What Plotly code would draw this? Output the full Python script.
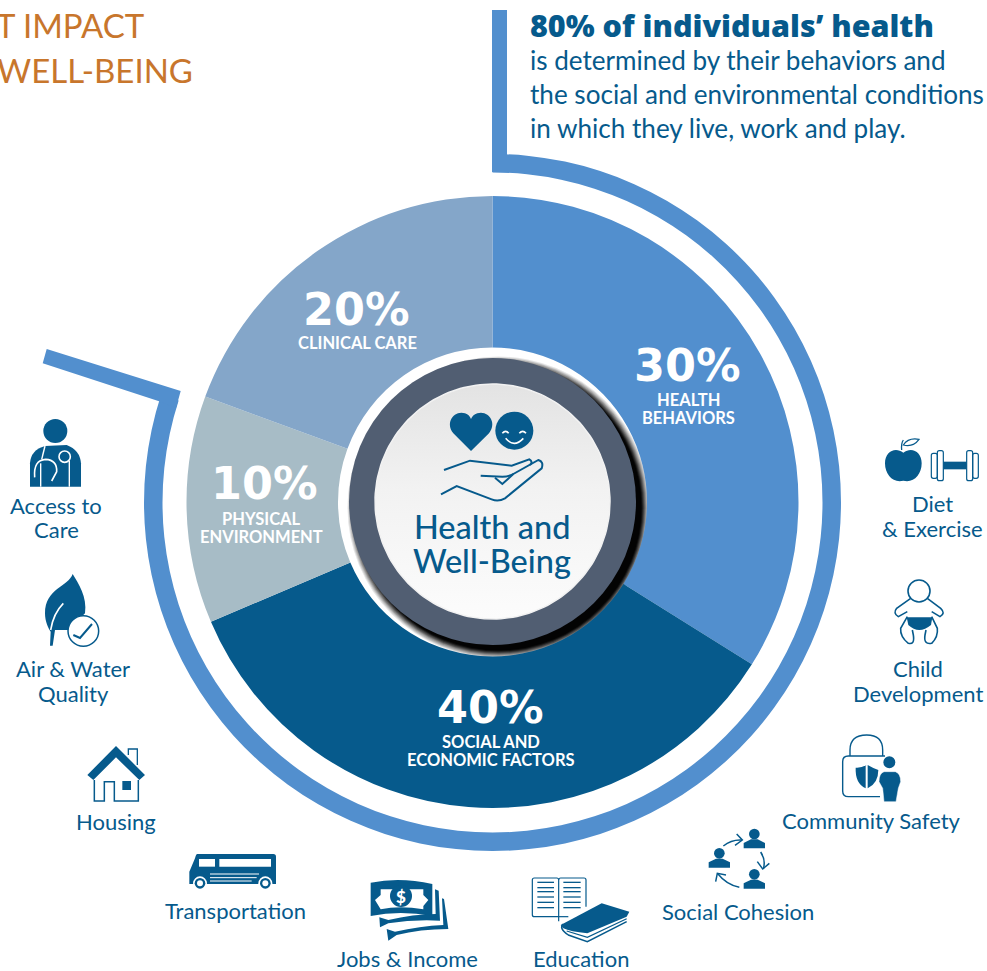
import re
import numpy as np
import plotly.graph_objects as go

# ---- data ----
categories = ["Health Behaviors", "Social and Economic Factors", "Physical Environment", "Clinical Care"]
stated_pct = ["30%", "40%", "10%", "20%"]
drawn_share = [33.9, 34.7, 12.0, 19.4]      # slice sizes as they are drawn in the picture
slice_colors = ["#528fce", "#065a8c", "#a7bcc6", "#84a6c9"]
bracket_values = [80, 20]
W, H = 987, 971
FONT = "Lato"
BLUE = "#065a8c"
ORANGE = "#c8762c"
ARC = "#528fce"

shapes, annos = [], []

def T(text, x, y, size, color=BLUE, weight=400, anchor="center", family=FONT):
    annos.append(dict(text=text, x=x, y=y, xref="x", yref="y", showarrow=False, xanchor=anchor,
                      yanchor="middle", font=dict(family=family, size=size, color=color, weight=weight)))

def zp(path, o):
    """path written in 3x zoom coordinates relative to origin o -> page pixels"""
    i = [0]
    def rep(m):
        v = float(m.group(0)) / 3 + o[i[0] % 2]
        i[0] += 1
        return f"{v:.2f}"
    return re.sub(r"-?\d+\.?\d*", rep, path)

def P(path, o=(0, 0), fill=BLUE, lc=None, lw=0, layer="above", op=1):
    p = zp(path, o) if o is not None else path
    shapes.append(dict(type="path", path=p, xref="x", yref="y", fillcolor=fill if fill else "rgba(0,0,0,0)",
                       line=dict(color=lc if lc else "rgba(0,0,0,0)", width=lw), layer=layer, opacity=op))

def S(path, o, lc=BLUE, lw=1.5, layer="above"):
    P(path, o, fill=None, lc=lc, lw=lw, layer=layer)

def C(cx, cy, r, o=(0, 0), fill=BLUE, lc=None, lw=0, layer="above", op=1, scale=3):
    cx, cy, r = cx / scale + o[0], cy / scale + o[1], r / scale
    shapes.append(dict(type="circle", x0=cx - r, x1=cx + r, y0=cy - r, y1=cy + r, xref="x", yref="y",
                       fillcolor=fill if fill else "rgba(0,0,0,0)",
                       line=dict(color=lc if lc else "rgba(0,0,0,0)", width=lw), layer=layer, opacity=op))

# ---- pies: main donut and 80% bracket ring ----
cx, cy, R = 492.5, 502.0, 306.0
R2, cy2 = 348.5, 502.5
fig = go.Figure()
t = np.linspace(0, 2 * np.pi, 181)
fig.add_trace(go.Scatter(x=492.5 + 117.5 * np.cos(t), y=501.5 + 117.5 * np.sin(t), mode="lines",
                         line=dict(color="#f2f2f2", width=1.5), fill="toself", hoverinfo="skip", showlegend=False,
                         fillgradient=dict(type="vertical",
                                           colorscale=[[0, "#fcfcfc"], [0.55, "#f2f2f2"], [1, "#e3e3e3"]])))
fig.add_trace(go.Pie(values=drawn_share, labels=categories, sort=False, direction="clockwise", rotation=0,
                     hole=154.5 / R, textinfo="none", showlegend=False,
                     marker=dict(colors=slice_colors, line=dict(width=0)),
                     domain=dict(x=[(cx - R) / W, (cx + R) / W], y=[1 - (cy + R) / H, 1 - (cy - R) / H])))
fig.add_trace(go.Pie(values=bracket_values, labels=["80%", "other"], sort=False, direction="clockwise", rotation=0,
                     hole=330 / R2, textinfo="none", showlegend=False,
                     marker=dict(colors=[ARC, "rgba(0,0,0,0)"], line=dict(width=0)),
                     domain=dict(x=[(cx - R2) / W, (cx + R2) / W], y=[1 - (cy2 + R2) / H, 1 - (cy2 - R2) / H])))

# ---- bracket ends ----
P("M492,10 L507,10 L507,172 L492,172 Z", None, fill=ARC)
P("M46.7,349 L180.7,391 L176,408 L158.3,401 L42.7,363.3 Z", None, fill=ARC)

# ---- hub ----
for r, op in [(151, .10), (150, .12), (149, .14), (148, .18), (147, .24), (146, .3), (145, .4), (144, .6), (143, .8)]:
    C(498.5, 507.5, r, fill="#000000", layer="below", op=op, scale=1)
C(492.5, 501.5, 143.5, fill="#515e72", layer="below", scale=1)

o = (340, 350)
P("M393,303 L340,250 C315,220 340,180 375,190 C385,193 390,200 393,207 C396,200 402,193 412,190 C447,180 472,220 447,250 Z", o)
C(523, 242, 57, o)
for p in ["M487,250 Q497,238 506,250", "M538,250 Q548,238 558,250", "M497,265 Q522,295 550,265"]:
    S(p, o, "#ffffff", 1.6)
S("M312,360 L390,332 L515,347 L568,328 Q580,335 570,345", o, lw=2)
S("M303,433 L350,408 L455,448 Q475,456 495,445 L605,355 Q612,335 595,330 L520,372 Q505,380 487,380 L422,377", o, lw=2)
S("M465,383 L487,402 L520,372", o, lw=2)

# ---- access to care ----
o = (0, 400)
C(166, 93, 36, o)
P("M90,260 L90,190 Q92,150 135,138 L200,135 Q240,150 243,190 L243,260 Z", o)
S("M135,138 L125,178", o, "#ffffff", 1.4)
S("M104,232 Q100,180 137,178 Q172,180 170,215 L155,243", o, "#ffffff", 1.6)
S("M122,190 L122,260", o, "#ffffff", 1.4)
S("M208,182 L208,260", o, "#ffffff", 1.4)
C(194, 170, 17, o, fill=BLUE, lc="#ffffff", lw=1.6)

# ---- air & water ----
P("M218,522 C205,560 135,565 135,640 C135,665 145,685 152,695 L150,737 L158,737 L165,690 L205,690 L255,640 C262,590 235,550 218,522 Z", o)
S("M152,690 Q160,640 190,610", o, "#ffffff", 1.6)
C(250, 693, 46, o, fill="#ffffff", lc=BLUE, lw=1.5)
S("M220,705 L240,714 L276,672", o, lw=2)

# ---- housing ----
o = (60, 730)
P("M168,48 L255,135 L238,150 L168,82 L100,150 L82,135 Z", o)
S("M205,75 L205,57 L232,57 L232,105", o, lw=1.3)
S("M103,150 L103,213 L133,213 L133,155 L163,155 L163,213 L235,213 L235,150", o, lw=1.5)
P("M187,153 L213,153 L213,180 L187,180 Z", o)

# ---- transportation ----
P("M412,372 L640,372 Q648,372 648,380 L648,462 L388,462 L388,425 L405,385 Q408,372 412,372 Z", o)
P("M417,387 L465,387 L465,410 L417,410 Z", o, fill="#ffffff")
P("M478,387 L633,387 L633,410 L478,410 Z", o, fill="#ffffff")
for y, xe in [(432, 597), (443, 590), (453, 575)]:
    S(f"M450,{y} L{xe},{y}", o, "#ffffff", 1)
for xw in (420, 616):
    C(xw, 460, 21, o, fill="#ffffff")
    C(xw, 460, 16, o)
    C(xw, 460, 9, o, fill="#ffffff")

# ---- jobs & income ----
P("M932,458 Q1020,440 1117,462 L1117,558 Q1020,540 932,558 Z", o)
P("M962,478 L1090,478 L1090,495 L1105,510 L1090,528 L1090,538 Q1020,525 962,538 L945,510 L962,495 Z", o, fill="#ffffff")
C(1023, 498, 33, o)
P("M958,562 L985,570 Q1060,552 1127,552 L1125,478 L1136,482 L1140,572 Q1060,568 985,580 L960,592 Z", o)
P("M980,597 L1005,605 Q1080,588 1150,585 L1146,505 L1152,507 L1165,597 Q1080,597 1010,615 L985,632 Z", o)
T("$", 1023 / 3 + 60, 498 / 3 + 730, 17, "#ffffff", 900)

# ---- education ----
o = (510, 720)
S("M146,590 L73,590 Q67,590 67,584 L67,480 Q67,474 73,474 L140,474 Q146,474 146,480 L146,604", o, lw=1.2)
S("M146,480 Q146,474 152,474 L222,474 Q228,474 228,480 L228,560", o, lw=1.2)
S("M146,590 L175,590", o, lw=1.2)
for y in (487, 503, 515, 531, 547, 563):
    S(f"M82,{y} L132,{y}", o, lw=1.3)
    S(f"M160,{y} L212,{y}", o, lw=1.3)
P("M152,615 L275,550 L358,575 L350,590 L232,640 Q180,635 160,625 Z", o)
S("M350,605 L232,665 L175,645 Q145,625 160,612", o, lw=1.5)
S("M350,596 L232,652 L170,633", o, lw=1.2)

# ---- social cohesion ----
for hx, hy in [(733, 342), (628, 400), (733, 463)]:
    C(hx, hy, 16, o)
    P(f"M{hx-32},{hy+43} L{hx-32},{hy+27} L{hx-10},{hy+16} L{hx+10},{hy+16} L{hx+32},{hy+27} L{hx+32},{hy+43} Z", o)
S("M640,378 Q665,358 695,360", o, lw=1.5)
S("M680,342 L697,360 L675,376", o, lw=1.5)
S("M752,396 Q768,420 760,447", o, lw=1.5)
S("M742,425 L758,447 L778,430", o, lw=1.5)
S("M688,502 Q650,495 622,460", o, lw=1.5)
S("M617,485 L622,460 L648,465", o, lw=1.5)

# ---- community safety ----
S("M1020,108 L1020,90 Q1020,45 1070,45 Q1118,45 1118,90 L1118,108", o, lw=1.4)
S("M1110,230 L1015,230 Q998,230 998,213 L998,125 Q998,108 1015,108 L1125,108", o, lw=1.4)
P("M1070,135 Q1050,145 1037,143 Q1035,190 1067,205 L1067,135 Z", o)
P("M1073,135 Q1090,145 1105,150 Q1105,190 1073,205 Z", o)
C(1138, 127, 18, o)
P("M1122,155 L1156,155 Q1172,160 1172,185 L1165,205 L1158,245 L1122,245 L1118,205 L1107,185 Q1107,160 1122,155 Z", o, lc="#ffffff", lw=0.5)

# ---- diet & exercise ----
o = (850, 420)
P("M160,98 C135,80 105,95 105,130 C105,165 130,190 160,182 C190,190 215,165 215,130 C215,95 185,80 160,98 Z", o)
S("M155,90 Q153,70 160,60", o, lw=1.3)
P("M160,75 Q175,52 207,58 Q190,82 160,75 Z", o, fill="#ffffff", lc=BLUE, lw=1.2)
for x0, x1, y0, y1 in [(244, 262, 100, 175), (262, 280, 92, 182), (350, 368, 92, 182), (368, 385, 100, 175)]:
    S(f"M{x0+6},{y0} L{x1-6},{y0} Q{x1},{y0} {x1},{y0+6} L{x1},{y1-6} Q{x1},{y1} {x1-6},{y1} L{x0+6},{y1} Q{x0},{y1} {x0},{y1-6} L{x0},{y0+6} Q{x0},{y0} {x0+6},{y0} Z", o, lw=1.2)
P("M280,125 L350,125 L350,148 L280,148 Z", o)

# ---- child development ----
C(207, 513, 33, o, fill="#ffffff", lc=BLUE, lw=1.6)
S("M182,535 L140,565 Q128,580 145,590 L172,575", o, lw=1.6)
S("M232,535 L272,565 Q288,580 270,590 L245,575", o, lw=1.6)
S("M172,590 L152,625 Q150,650 175,670 Q195,675 190,645 L187,630", o, lw=1.6)
S("M245,590 L262,625 Q265,650 245,670 Q220,675 225,645 L228,630", o, lw=1.6)
P("M170,592 L247,592 L243,615 Q207,645 175,615 Z", o)

# ---- texts ----
T("T IMPACT", 147, 25, 33, ORANGE, 400, "right")
T("WELL-BEING", 195, 70, 33, ORANGE, 400, "right")

T("80% of individuals’ health", 528, 25, 30.5, BLUE, 800, "left", "Open Sans")
T("is determined by their behaviors and", 528, 59.5, 26.1, BLUE, 400, "left")
T("the social and environmental conditions", 528, 93.5, 26.1, BLUE, 400, "left")
T("in which they live, work and play.", 528, 127.5, 26.1, BLUE, 400, "left")

WH = "#ffffff"
BF = "DejaVu Sans"
T(stated_pct[0], 687, 365, 44.5, WH, 700, family=BF)
T("HEALTH", 688, 400, 16.5, WH, 700)
T("BEHAVIORS", 688, 418, 16.5, WH, 700)
T(stated_pct[1], 490, 707, 44.5, WH, 700, family=BF)
T("SOCIAL AND", 491, 742, 16.5, WH, 700)
T("ECONOMIC FACTORS", 491, 760, 16.5, WH, 700)
T(stated_pct[2], 264, 483, 44.5, WH, 700, family=BF)
T("PHYSICAL", 261, 519, 16.5, WH, 700)
T("ENVIRONMENT", 261, 537, 16.5, WH, 700)
T(stated_pct[3], 356, 309, 44.5, WH, 700, family=BF)
T("CLINICAL CARE", 357, 343, 16.5, WH, 700)

T("Health and", 492, 526, 32.5, BLUE, 500)
T("Well-Being", 492, 560, 32.5, BLUE, 500)

for txt, x, y in [("Access to", 56, 507), ("Care", 56, 531), ("Air & Water", 73, 670), ("Quality", 73, 695),
                  ("Housing", 116, 823), ("Transportation", 235, 912), ("Jobs & Income", 407, 960),
                  ("Education", 581, 960), ("Social Cohesion", 738, 913), ("Community Safety", 871, 822),
                  ("Child", 918, 670), ("Development", 918, 695), ("Diet", 932, 505), ("& Exercise", 932, 530)]:
    T(txt, x, y - 1.5, 22)

fig.update_layout(width=W, height=H, autosize=False, margin=dict(l=0, r=0, t=0, b=0),
                  paper_bgcolor="white", plot_bgcolor="white", showlegend=False,
                  xaxis=dict(visible=False, range=[0, W], domain=[0, 1], fixedrange=True),
                  yaxis=dict(visible=False, range=[H, 0], domain=[0, 1], fixedrange=True),
                  shapes=shapes, annotations=annos)
fig.write_html("out.html", config=dict(displayModeBar=False),
               post_script="document.body.style.margin='0';document.body.style.overflow='hidden';")
